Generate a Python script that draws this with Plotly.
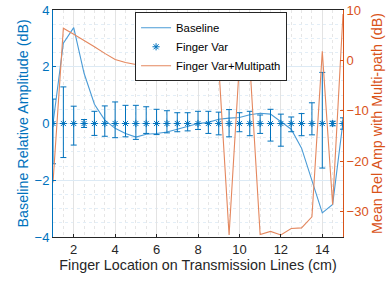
import plotly.graph_objects as go

x = [1 + 0.5 * i for i in range(29)]

baseline = [0.0, 2.83, 3.38, 1.77, 0.68, 0.12, -0.17, -0.35, -0.48, -0.38, -0.35, -0.3, -0.2, -0.11, 0.0,
            0.04, 0.15, 0.19, 0.21, 0.31, 0.36, 0.33, 0.06, -0.2, -0.87, -2.05, -3.15, -2.85, 0.06]

finger_mean = [0.0] * 29
err_plus = [0.86, 1.29, 0.61, 0.14, 0.43, 0.62, 0.76, 0.64, 0.64, 0.59, 0.5, 0.45, 0.38, 0.38, 0.43,
            0.43, 0.4, 0.49, 0.38, 0.43, 0.3, 0.5, 0.33, 0.23, 0.35, 0.73, 1.8, 0.08, 0.2]
err_minus = [1.42, 1.2, 0.76, 0.14, 0.42, 0.45, 0.5, 0.47, 0.56, 0.35, 0.39, 0.33, 0.29, 0.26, 0.21,
             0.35, 0.4, 0.47, 0.29, 0.43, 0.35, 0.62, 0.8, 0.29, 0.43, 0.4, 1.57, 0.08, 0.2]

multipath = [-24.2, 6.4, 5.2, 4.0, 2.7, 1.4, 0.2, -0.4, -0.8, -0.9, -1.0, -1.05, -1.05, -1.1, -1.0,
             -0.95, -0.9, -34.6, -0.5, -0.45, -34.5, -33.9, -34.6, -33.3, -33.2, -31.0, 1.8, -28.6, 9.2]

BLUE = "#0072BD"
ORANGE = "#D95319"
DARK = "#262626"
FONT = "Liberation Sans, Arial, sans-serif"

fig = go.Figure()

fig.add_trace(go.Scatter(
    x=x, y=baseline, mode="lines", name="Baseline",
    line=dict(color="#4A9BD6", width=1.1), yaxis="y"))

fig.add_trace(go.Scatter(
    x=x, y=finger_mean, mode="markers", name="Finger Var",
    marker=dict(symbol="asterisk-open", size=6, color=BLUE, line=dict(color=BLUE, width=1)),
    error_y=dict(type="data", symmetric=False, array=err_plus, arrayminus=err_minus,
                 color=BLUE, thickness=1, width=3),
    yaxis="y"))

fig.add_trace(go.Scatter(
    x=x, y=multipath, mode="lines", name="Finger Var+Multipath",
    line=dict(color="#E4875E", width=1.1), yaxis="y2"))

fig.update_layout(
    template="none",
    width=390, height=282,
    margin=dict(l=53, r=47, t=10, b=45, autoexpand=False),
    paper_bgcolor="white", plot_bgcolor="white",
    font=dict(family=FONT, size=12, color=DARK),
    showlegend=True,
    legend=dict(x=0.283, y=0.99, xanchor="left", yanchor="top",
                bgcolor="white", bordercolor=DARK, borderwidth=1,
                font=dict(size=11.3, color="black"), tracegroupgap=0, itemwidth=30),
    xaxis=dict(range=[1, 15], tickvals=[2, 4, 6, 8, 10, 12, 14], ticks="inside", ticklen=3,
               tickcolor=DARK, showline=True, linecolor=DARK, linewidth=1, mirror=True,
               showgrid=True, gridcolor="#E3E3E3", gridwidth=1, zeroline=False, automargin=False,
               minor=dict(dtick=0.5, showgrid=True, gridcolor="#E6E6E6", griddash="dot", gridwidth=1),
               tickfont=dict(size=13, color=DARK),
               title=dict(text="Finger Location on Transmission Lines (cm)", font=dict(size=14.3, color=DARK), standoff=4)),
    yaxis=dict(range=[-4, 4], tickvals=[-4, -2, 0, 2, 4], ticks="inside", ticklen=3,
               tickcolor=BLUE, showline=True, linecolor=BLUE, linewidth=1, automargin=False,
               showgrid=True, gridcolor="#DCEAF5", gridwidth=1, zeroline=False,
               minor=dict(dtick=0.5, showgrid=True, gridcolor="#E3EEF7", griddash="dot", gridwidth=1),
               tickfont=dict(size=13, color=BLUE)),
    yaxis2=dict(range=[-35, 10], tickvals=[-30, -20, -10, 0, 10], ticks="inside", ticklen=3,
                tickcolor=ORANGE, showline=True, linecolor=ORANGE, linewidth=1, automargin=False,
                overlaying="y", side="right", showgrid=False, zeroline=False,
                tickfont=dict(size=13, color=ORANGE),
                title=dict(text="Mean Rel Amp with Multi-path (dB)", font=dict(size=14.3, color=ORANGE), standoff=3)),
    annotations=[dict(text="Baseline Relative Amplitude (dB)", xref="paper", yref="paper",
                      x=0, y=0.5, xanchor="center", yanchor="middle", xshift=-31,
                      textangle=-90, showarrow=False, font=dict(size=14.3, color=BLUE))],
)

fig.write_html("out.html", config={"displayModeBar": False},
               post_script="document.body.style.margin='0';document.body.style.overflow='hidden';")
